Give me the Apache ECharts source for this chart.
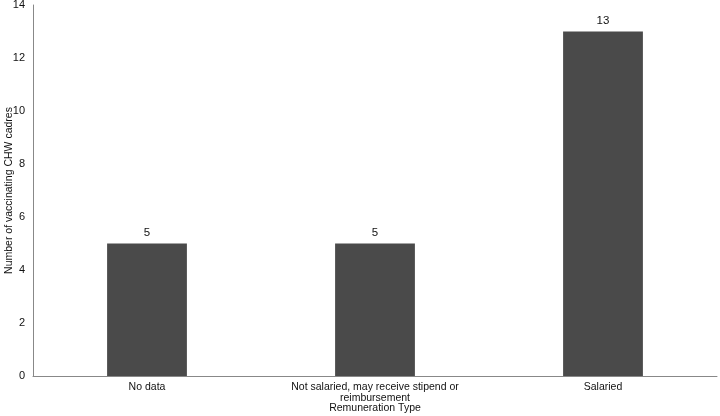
<!DOCTYPE html>
<html>
<head>
<meta charset="utf-8">
<script src="https://cdn.jsdelivr.net/npm/echarts@6/dist/echarts.min.js"></script>
<style>html,body{margin:0;padding:0;background:#fff;}#c{width:720px;height:416px;}</style>
</head>
<body>
<div id="c"></div>
<script>
var categories = ["No data", "Not salaried, may receive stipend or\nreimbursement", "Salaried"];
var values = [5, 5, 13];
var yTicks = [0, 2, 4, 6, 8, 10, 12, 14];

var chart = echarts.init(document.getElementById('c'), null, {renderer: 'canvas'});
var font = '"Liberation Sans", Arial, Helvetica, sans-serif';
chart.setOption({
  animation: false,
  textStyle: {fontFamily: font},
  grid: {left: 33, right: 3, top: 5, bottom: 40, containLabel: false, outerBoundsMode: 'none'},
  xAxis: {
    type: 'category',
    data: categories,
    name: 'Remuneration Type',
    nameLocation: 'middle',
    nameGap: 27,
    nameMoveOverlap: false,
    nameTextStyle: {color: '#111', fontSize: 10.5, fontFamily: font},
    axisLine: {lineStyle: {color: '#888', width: 1}},
    axisTick: {show: false},
    axisLabel: {color: '#111', fontSize: 10.5, fontFamily: font, margin: 6, lineHeight: 11, interval: 0}
  },
  yAxis: {
    type: 'value',
    min: yTicks[0],
    max: yTicks[yTicks.length - 1],
    interval: 2,
    name: 'Number of vaccinating CHW cadres',
    nameLocation: 'middle',
    nameGap: 18,
    nameMoveOverlap: false,
    nameTextStyle: {color: '#111', fontSize: 10.5, fontFamily: font},
    axisLine: {show: true, lineStyle: {color: '#888', width: 1}},
    axisTick: {show: false},
    splitLine: {show: false},
    axisLabel: {color: '#111', fontSize: 11, fontFamily: font, margin: 8}
  },
  series: [{
    type: 'bar',
    data: values,
    barWidth: '35%',
    itemStyle: {color: '#4a4a4a'},
    label: {show: true, position: 'top', color: '#111', fontSize: 11.5, fontFamily: font, distance: 5}
  }]
});
</script>
</body>
</html>
